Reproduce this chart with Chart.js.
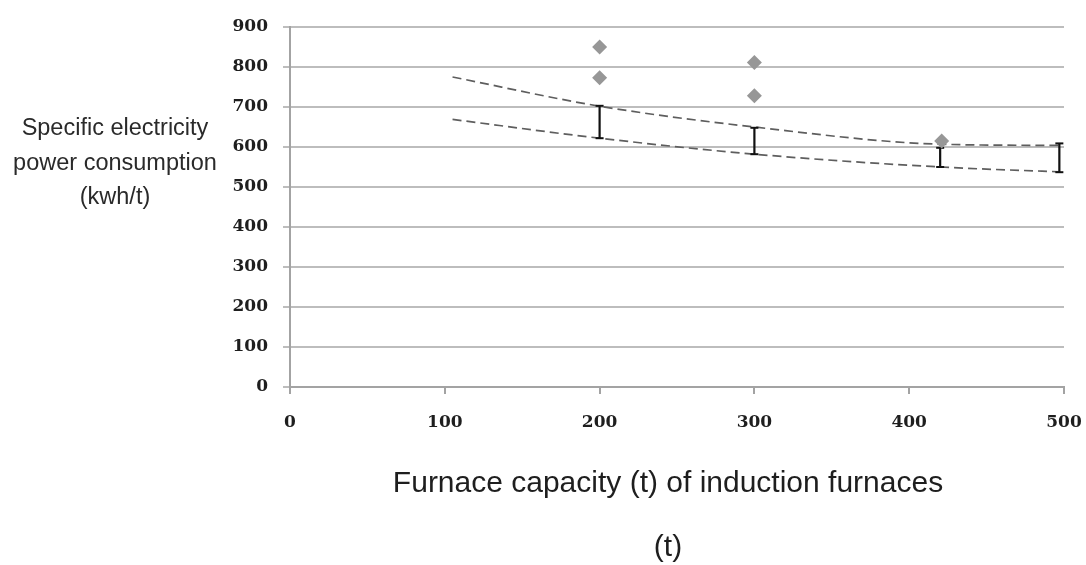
<!DOCTYPE html>
<html>
<head>
<meta charset="utf-8">
<script src="https://cdn.jsdelivr.net/npm/chart.js@4.4.1/dist/chart.umd.min.js"></script>
<style>
  html, body { margin: 0; padding: 0; background: #fff; }
  #wrap { width: 1086px; height: 565px; }
</style>
</head>
<body>
<div id="wrap"><canvas id="furnace-chart"></canvas></div>
<script>
// measured plants
const sampleCapacity = [200, 200, 300, 300, 421];
const sampleConsumption = [850, 773, 811, 728, 615];

// dashed envelope curves
const curveCapacity = [105, 200, 300, 420, 497];
const upperConsumption = [775, 702, 650, 607, 604];
const lowerConsumption = [669, 622, 582, 550, 538];

// vertical range markers
const rangeCapacity = [200, 300, 420, 497];
const rangeLow = [622, 582, 550, 537];
const rangeHigh = [703, 648, 598, 609];

const xTickValues = [0, 100, 200, 300, 400, 500];
const yTickValues = [0, 100, 200, 300, 400, 500, 600, 700, 800, 900];

const yTitleLines = ['Specific electricity', 'power consumption', '(kwh/t)'];
const xTitleLines = ['Furnace capacity (t) of induction furnaces', '(t)'];

const gridGrey = '#bdbdbd';
const axisGrey = '#a3a3a3';
const dashGrey = '#5e5e5e';
const diamondGrey = '#979797';
const inkBlack = '#111';

const toPoints = (xs, ys) => xs.map((x, i) => ({ x: x, y: ys[i] }));

const rangeSets = rangeCapacity.map((x, i) => ({
  data: [{ x: x, y: rangeLow[i] }, { x: x, y: rangeHigh[i] }],
  showLine: true,
  borderColor: inkBlack,
  borderWidth: 2.2,
  pointStyle: 'line',
  pointRadius: 4,
  pointBorderWidth: 2,
  pointBorderColor: inkBlack,
}));

const curveStyle = {
  showLine: true,
  borderColor: dashGrey,
  borderWidth: 1.7,
  borderDash: [9, 5],
  cubicInterpolationMode: 'monotone',
  pointRadius: 0,
};

// both axis titles: the y one sits horizontally left of the tick labels,
// the x one is two lines under the axis, a little left of the plot centre
const axisTitles = {
  id: 'axisTitles',
  afterDraw(chart) {
    const { ctx } = chart;
    ctx.save();
    ctx.textAlign = 'center';
    ctx.fillStyle = '#2a2a2a';
    ctx.font = '23.5px "Liberation Sans", Arial, sans-serif';
    ctx.textBaseline = 'middle';
    yTitleLines.forEach((line, i) => ctx.fillText(line, 115, 129 + i * 34.5));

    ctx.fillStyle = '#1e1e1e';
    ctx.font = '30px "Liberation Sans", Arial, sans-serif';
    ctx.textBaseline = 'alphabetic';
    ctx.fillText(xTitleLines[0], 668, 492);
    ctx.fillText(xTitleLines[1], 668, 556);
    ctx.restore();
  },
};

new Chart(document.getElementById('furnace-chart'), {
  type: 'scatter',
  data: {
    datasets: [
      {
        data: toPoints(sampleCapacity, sampleConsumption),
        pointStyle: 'rectRot',
        pointRadius: 7.5,
        pointBackgroundColor: diamondGrey,
        pointBorderColor: diamondGrey,
        pointBorderWidth: 0,
      },
      ...rangeSets,
      { data: toPoints(curveCapacity, upperConsumption), ...curveStyle },
      { data: toPoints(curveCapacity, lowerConsumption), ...curveStyle },
    ],
  },
  plugins: [axisTitles],
  options: {
    responsive: true,
    maintainAspectRatio: false,
    animation: false,
    layout: { padding: { top: 27, right: 22, left: 0, bottom: 0 } },
    plugins: {
      legend: { display: false },
      tooltip: { enabled: false },
    },
    scales: {
      x: {
        type: 'linear',
        min: 0,
        max: 500,
        afterBuildTicks: (scale) => { scale.ticks = xTickValues.map((v) => ({ value: v })); },
        afterFit: (scale) => {
          scale.height = 178;
          scale.paddingLeft = 0;
          scale.paddingRight = 0;
        },
        grid: {
          drawOnChartArea: false,
          color: axisGrey,
          lineWidth: 2,
          tickLength: 7,
        },
        border: { color: axisGrey, width: 2 },
        ticks: {
          padding: 18,
          color: '#1e1e1e',
          font: { family: '"DejaVu Serif", serif', size: 17, weight: 'bold' },
        },
      },
      y: {
        min: 0,
        max: 900,
        afterBuildTicks: (scale) => { scale.ticks = yTickValues.map((v) => ({ value: v })); },
        afterFit: (scale) => { scale.width = 290; },
        grid: {
          color: gridGrey,
          lineWidth: 2,
          tickLength: 7,
        },
        border: { color: axisGrey, width: 2 },
        ticks: {
          padding: 15,
          color: '#1e1e1e',
          font: { family: '"DejaVu Serif", serif', size: 17, weight: 'bold' },
        },
      },
    },
  },
});
</script>
</body>
</html>
